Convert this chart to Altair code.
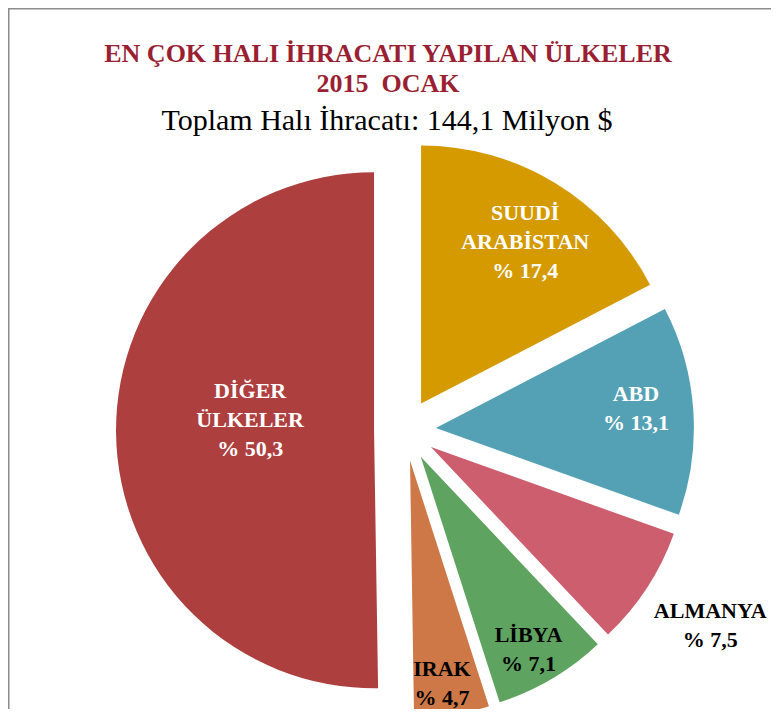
import math
import altair as alt
import pandas as pd

# ---- data ----
countries = ["SUUDİ ARABİSTAN", "ABD", "ALMANYA", "LİBYA", "IRAK", "DİĞER ÜLKELER"]
shares = [17.4, 13.1, 7.5, 7.1, 4.7, 50.3]
title_line1 = "EN ÇOK HALI İHRACATI YAPILAN ÜLKELER"
title_line2 = "2015\u00a0 OCAK"
subtitle = "Toplam Halı İhracatı: 144,1 Milyon $"

# ---- styles ----
slice_colors = ["#D49A00", "#54A1B6", "#CC5E6E", "#5EA35F", "#CE7848", "#AE3F3F"]
label_colors = ["#FFFFFF", "#FFFFFF", "#000000", "#000000", "#000000", "#FFFFFF"]
label_radius = [0.745, 0.779, 1.285, 0.857, 0.872, 0.482]   # in pie radii
label_shift = [1.5, -1.7, -0.6, 1.4, 1.2, 5.4]               # degrees
EXPLODE = 0.12
R = 258
W, H = 763, 701
CX, CY = 397, 422  # pie centre inside plot area (px)
LINE_H = 29

df = pd.DataFrame({
    "country": countries,
    "share": shares,
    "order": list(range(len(countries))),
    "color": slice_colors,
    "lcolor": label_colors,
    "lr": label_radius,
    "lshift": label_shift,
})

xs = alt.Scale(domain=[-CX / R, (W - CX) / R], nice=False, zero=False)
ys = alt.Scale(domain=[-CY / R, (H - CY) / R], nice=False, zero=False, reverse=True)

base = (
    alt.Chart(df)
    .transform_window(cum="sum(share)", sort=[alt.SortField("order")], frame=[None, 0])
    .transform_joinaggregate(total="sum(share)")
    .transform_calculate(t0="(datum.cum - datum.share) / datum.total",
                         t1="datum.cum / datum.total")
    .transform_calculate(mid="PI * (datum.t0 + datum.t1)")
    .transform_calculate(cx=f"{EXPLODE} * sin(datum.mid)",
                         cy=f"-{EXPLODE} * cos(datum.mid)")
    .transform_calculate(la="datum.mid + datum.lshift * PI / 180")
    .transform_calculate(
        label="replace(datum.country, ' ', '\\n') + '\\n% ' + replace(format(datum.share, '.1f'), '.', ',')"
    )
    .transform_calculate(nlines="length(split(datum.label, '\\n'))")
    .transform_calculate(
        lx="datum.cx + datum.lr * sin(datum.la)",
        ly=f"datum.cy - datum.lr * cos(datum.la) - (datum.nlines - 1) / 2 * {LINE_H} / {R}",
    )
)

pie = base.mark_arc(radius=R, stroke=None).encode(
    x=alt.X("cx:Q", scale=xs, axis=None),
    y=alt.Y("cy:Q", scale=ys, axis=None),
    theta=alt.Theta("t0:Q", scale=alt.Scale(domain=[0, 1], range=[0, 2 * math.pi]), stack=False),
    theta2="t1:Q",
    color=alt.Color("color:N", scale=None, legend=None),
)

labels = base.mark_text(
    font="Liberation Serif", fontWeight="bold", fontSize=22,
    lineBreak="\n", lineHeight=LINE_H, align="center", baseline="middle",
).encode(
    x=alt.X("lx:Q", scale=xs, axis=None),
    y=alt.Y("ly:Q", scale=ys, axis=None),
    text="label:N",
    color=alt.Color("lcolor:N", scale=None, legend=None),
)

one = pd.DataFrame({"k": [0]})
t1 = alt.Chart(one).mark_text(
    font="Liberation Serif", fontWeight="bold", fontSize=26, color="#9A1F33",
    align="center", baseline="alphabetic",
).encode(text=alt.value(title_line1), x=alt.value(380), y=alt.value(54))
t2 = alt.Chart(one).mark_text(
    font="Liberation Serif", fontWeight="bold", fontSize=26, color="#9A1F33",
    align="center", baseline="alphabetic",
).encode(text=alt.value(title_line2), x=alt.value(380), y=alt.value(84))
t3 = alt.Chart(one).mark_text(
    font="Liberation Serif", fontSize=30, color="#000000",
    align="center", baseline="alphabetic",
).encode(text=alt.value(subtitle), x=alt.value(379), y=alt.value(122))

frame_left = alt.Chart(one).mark_rule(color="#8C8C8C", strokeWidth=1.5).encode(
    x=alt.value(0.75), y=alt.value(0), y2=alt.value(H))
frame_top = alt.Chart(one).mark_rule(color="#8C8C8C", strokeWidth=1.5).encode(
    x=alt.value(0), x2=alt.value(W), y=alt.value(0.75))

chart = alt.layer(frame_left, frame_top, pie, labels, t1, t2, t3).properties(
    width=W, height=H,
    autosize=alt.AutoSizeParams(type="none"),
    padding=0,
).configure_view(stroke=None)

chart.save("out.html", embed_options={"renderer": "svg", "actions": False})
